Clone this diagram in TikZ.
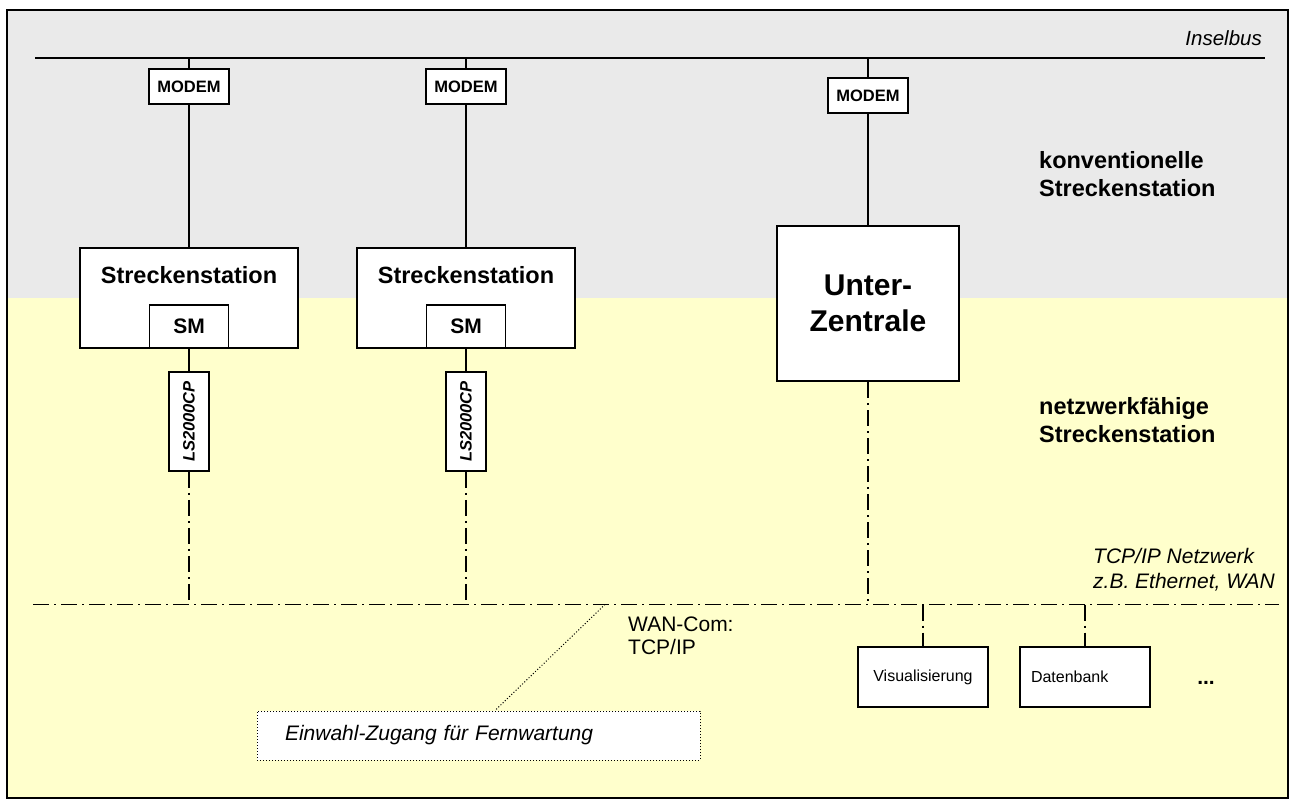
\documentclass[tikz,border=0pt]{standalone}
\usepackage{fontspec}
\setmainfont{Liberation Sans}
\usepackage{graphicx}
\definecolor{topgray}{HTML}{EAEAEA}
\definecolor{lowyellow}{HTML}{FFFFCC}

\begin{document}
\begin{tikzpicture}[x=1pt,y=-1pt,
    link/.style={line width=1.6pt},
    netline/.style={line width=1.6pt,dash pattern=on 16pt off 5pt on 2pt off 5pt},
    unit/.style={draw,line width=1.8pt,fill=white,inner sep=0pt},
    modem/.style={unit,minimum width=80pt,minimum height=35pt,font=\bfseries\fontsize{16.5}{19}\selectfont},
    station/.style={unit,minimum width=218pt,minimum height=100pt},
    stname/.style={inner sep=0pt,font=\bfseries\fontsize{23.5}{28}\selectfont},
    smbox/.style={unit,minimum width=79pt,minimum height=43pt,font=\bfseries\fontsize{21}{24}\selectfont},
    lsbox/.style={unit,minimum width=40pt,minimum height=99pt,font=\bfseries\itshape\fontsize{16.5}{19}\selectfont},
    pcbox/.style={unit,line width=1.5pt,minimum width=130pt,minimum height=60pt,font=\fontsize{16}{19}\selectfont},
    sidelabel/.style={inner sep=0pt,anchor=west,align=left,font=\bfseries\fontsize{23.5}{28}\selectfont},
    notelabel/.style={inner sep=0pt,anchor=west,align=left,font=\fontsize{21}{23}\selectfont}]
      \useasboundingbox (0,0) rectangle (1294,804);
      % two areas
      \fill [topgray] (7,10) rectangle (1288,298);
      \fill [lowyellow] (7,298) rectangle (1288,798);
      \draw [line width=1.5pt] (7,10) rectangle (1288,798);

      % Inselbus
      \coordinate (ibL) at (35,58);
      \coordinate (ibR) at (1265,58);
      \draw [link] (ibL) -- (ibR);
      \node [inner sep=0pt,anchor=east,font=\itshape\fontsize{20.5}{24}\selectfont] (ibname) at (1262,38) {Inselbus};

      % TCP/IP bus
      \coordinate (busL) at (33,604.5);
      \coordinate (busR) at (1279,604.5);
      \draw [netline] (busL) -- (busR);

      \node [modem] (m1) at (189,86.5) {MODEM};
      \node [modem] (m2) at (466,86.5) {MODEM};
      \node [modem] (m3) at (868,95.5) {MODEM};

      \node [station] (s1) at (189,298) {};
      \node [station] (s2) at (466,298) {};
      \node [stname] (s1name) at (189,275) {Streckenstation};
      \node [stname] (s2name) at (466,275) {Streckenstation};
      \node [smbox,anchor=south] (sm1) at (s1.south) {SM};
      \node [smbox,anchor=south] (sm2) at (s2.south) {SM};

      \node [lsbox] (ls1) at (189,421.5) {\rotatebox{90}{LS2000CP}};
      \node [lsbox] (ls2) at (466,421.5) {\rotatebox{90}{LS2000CP}};

      \node [unit,line width=2.4pt,minimum width=182pt,minimum height=155pt,align=center,
             font=\bfseries\fontsize{30}{36}\selectfont] (uz) at (868,303.5) {Unter-\\Zentrale};

      \node [pcbox] (vis) at (923,677) {Visualisierung};
      \node [pcbox,text width=108pt,inner xsep=11pt,align=left] (dat) at (1085,677) {Datenbank};
      \node [inner sep=0pt,font=\bfseries\fontsize{21}{24}\selectfont] (more) at (1206,683) {...};

      \node [draw,dotted,line width=1pt,fill=white,minimum width=443pt,minimum height=49pt,
             text width=387pt,inner xsep=28pt,align=left,font=\itshape\fontsize{21}{24}\selectfont]
             (ein) at (478.5,735.5) {Einwahl-Zugang für Fernwartung};

      % connectors
      \draw [link] (m1.north |- ibL) -- (m1.north);
      \draw [link] (m2.north |- ibL) -- (m2.north);
      \draw [link] (m3.north |- ibL) -- (m3.north);
      \draw [link] (m1.south) -- (s1.north);
      \draw [link] (m2.south) -- (s2.north);
      \draw [link] (m3.south) -- (uz.north);
      \draw [link] (sm1.south) -- (ls1.north);
      \draw [link] (sm2.south) -- (ls2.north);
      \draw [netline] (ls1.south) -- (ls1.south |- busL);
      \draw [netline] (ls2.south) -- (ls2.south |- busL);
      \draw [netline] (uz.south) -- (uz.south |- busL);
      \draw [netline] (vis.north |- busL) -- (vis.north);
      \draw [netline] (dat.north |- busL) -- (dat.north);
      \coordinate (tap) at (605,604.5);
      \draw [dotted,line width=1pt] (tap) -- ([xshift=16.5pt]ein.north);

      % labels
      \node [sidelabel] (konv) at (1039,174) {konventionelle\\Streckenstation};
      \node [sidelabel] (netz) at (1039,420) {netzwerkfähige\\Streckenstation};
      \node [notelabel,font=\itshape\fontsize{21}{25}\selectfont] (tcp) at (1093,570) {TCP/IP Netzwerk\\z.B. Ethernet, WAN};
      \node [notelabel] (wan) at (628,636) {WAN-Com:\\TCP/IP};
    \end{tikzpicture}
\end{document}
